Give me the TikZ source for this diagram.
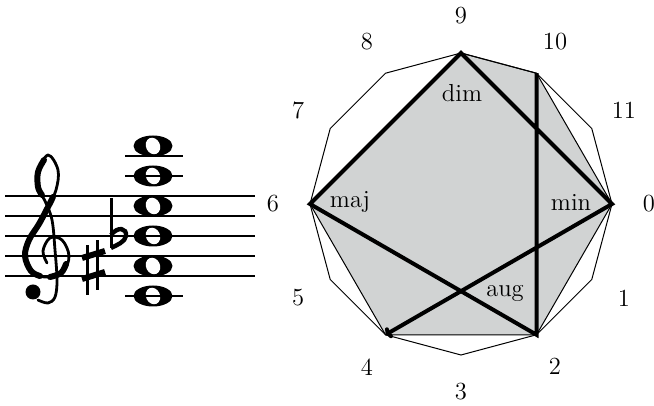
\documentclass[tikz,border=0pt]{standalone}
\usepackage{tikz}
\usetikzlibrary{arrows.meta,calc}
\definecolor{ink}{HTML}{000000}
\definecolor{chordgrey}{HTML}{D1D3D3}
\tikzset{
  every node/.style={text=ink, font=\fontsize{12.3}{14.5}\selectfont},
  numlabel/.style={inner sep=0pt},
  chordlabel/.style={inner sep=1pt},
  staffline/.style={draw=ink, line width=1pt},
  ledger/.style={draw=ink, line width=1.1pt},
  clefstroke/.style={draw=ink, line width=1.4pt, line cap=round, line join=round},
  clefheavy/.style={draw=ink, line width=3pt, line cap=round, line join=round},
  accstroke/.style={draw=ink, line width=1.5pt},
  accbar/.style={draw=ink, line width=3pt},
  thinedge/.style={draw=ink, line width=.5pt},
  voice/.style={draw=ink, line width=2pt, -{To[length=3pt,width=6pt]}}
}

\begin{document}
\begin{tikzpicture}[x=0.5pt,y=0.5pt]
\useasboundingbox (0,0) rectangle (654,406);

% Chord on the staff: C F# Bb E A D, stacked in fourths.
\foreach \h in {110,140,170,200,230,260} {
  \fill[ink] (153,\h) ellipse [x radius=19.5, y radius=10.5];
  \fill[white] (153,\h) ellipse [x radius=7, y radius=8.5, rotate=25];
}
\foreach \s in {130,150,...,210}
  \draw[staffline] (5,\s) -- (255,\s);
\foreach \s in {110,230,250}
  \draw[ledger] (125,\s) -- (183,\s);

% Treble clef, drawn by hand.
\draw[clefstroke] plot[smooth, tension=.6] coordinates {
  (47,143) (43,155) (50,168) (62,166) (69,150) (63,134) (48,129)
  (33,133) (25,150) (29,166) (39,182) (48,199) (56,216) (58,236)
  (48,251) (38,234) (38,218) (45,205) (52,186) (55,156) (57,126)
  (55,109) (48,103) (38,106)};
\draw[clefheavy] plot[smooth, tension=.6] coordinates {
  (40,130) (31,135) (25,150) (29,166) (39,182) (48,199) (53,209)};
\draw[clefheavy] plot[smooth, tension=.6] coordinates {
  (44,246) (38,234) (38,219) (42,211)};
\draw[clefheavy] plot[smooth, tension=.6] coordinates {
  (66,142) (61,133) (50,129)};
\fill[ink] (33,114) circle [radius=7.5];

% Sharp and flat.
\draw[accstroke] (87,111) -- (87,161);
\draw[accstroke] (97,116) -- (97,166);
\draw[accbar] (82,148) -- (105,155);
\draw[accbar] (82,127) -- (105,134);
\draw[accstroke] (111,208) -- (111,158);
\draw[accstroke, line width=2.2pt] (111,171) .. controls (118,180) and (127,178) .. (126,170)
  .. controls (125,164) and (117,161) .. (111,158);

% Pitch-class circle.
\coordinate (c) at (461,202);
\foreach \k in {0,...,11} {
  \coordinate (v\k) at ($(c)+({-30*\k}:151)$);
  \node[numlabel] (n\k) at ($(c)+({-30*\k}:188)$) {\k};
}

\fill[chordgrey] (v9) -- (v10) -- (v0) -- (v2) -- (v4) -- (v6) -- cycle;
\draw[thinedge] (v0) \foreach \k in {1,...,11} { -- (v\k) } -- cycle;
\draw[thinedge] (v9) -- (v10) -- (v0) -- (v2) -- (v4) -- (v6) -- cycle;

\draw[voice] (v10) -- (v2) -- (v6) -- (v9) -- (v0) -- (v4);

\node[chordlabel] (dim) at (462,313) {dim};
\node[chordlabel] (maj) at (350,204) {maj};
\node[chordlabel] (min) at (571,204) {min};
\node[chordlabel] (aug) at (505,113) {aug};

\end{tikzpicture}
\end{document}
